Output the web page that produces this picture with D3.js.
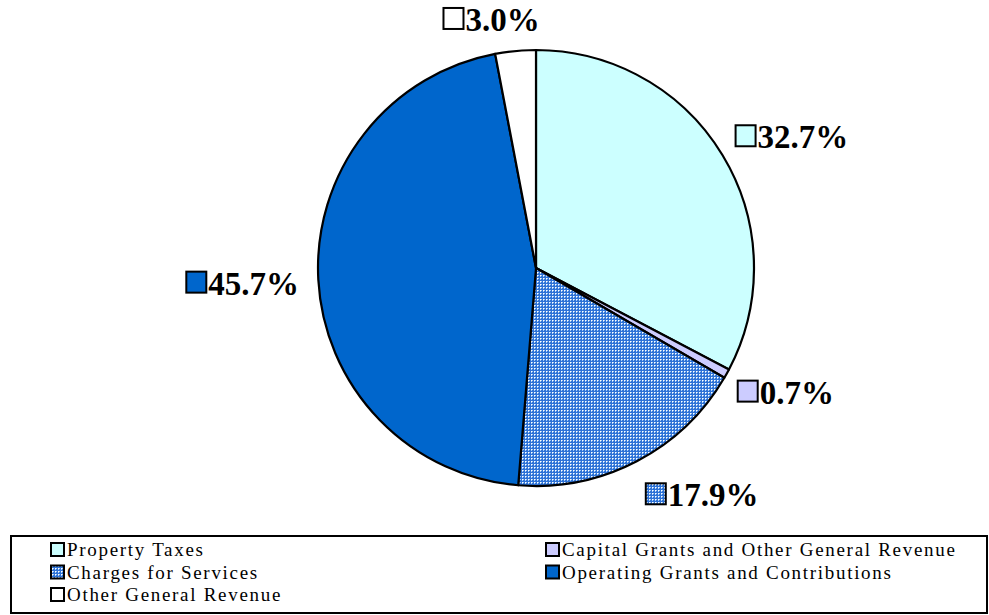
<!DOCTYPE html>
<html><head><meta charset="utf-8">
<script src="https://cdn.jsdelivr.net/npm/d3@7"></script>
<style>body{margin:0;background:#fff}svg{display:block}</style>
</head><body>
<script>
const categories = ["Property Taxes","Capital Grants and Other General Revenue","Charges for Services","Operating Grants and Contributions","Other General Revenue"];
const values = [32.7, 0.7, 17.9, 45.7, 3.0];
const labels = ["32.7%","0.7%","17.9%","45.7%","3.0%"];
const colors = ["#CCFFFF","#CCCCFF","url(#hatch)","#0066CC","#FFFFFF"];

// label placement offsets (from the rim point at the slice's mid angle to the left-centre of the label group)
const labelOffsets = [[12,-19],[10,18],[8,33],[-133,3],[-73,-32]];

const W=989,H=615, cx=536, cy=268, R=218;
const svg=d3.select("body").append("svg").attr("width",W).attr("height",H);
const defs=svg.append("defs");
const pat=defs.append("pattern").attr("id","hatch").attr("width",3).attr("height",3).attr("patternUnits","userSpaceOnUse");
pat.append("rect").attr("width",3).attr("height",3).attr("fill","#2E72D6");
pat.append("rect").attr("width",1).attr("height",1).attr("x",1).attr("y",1).attr("fill","#ffffff");
pat.append("rect").attr("width",1).attr("height",1).attr("x",2).attr("y",1).attr("fill","#A8CCF4");
pat.append("rect").attr("width",1).attr("height",1).attr("x",1).attr("y",2).attr("fill","#A8CCF4");

const pie=d3.pie().sort(null).value(d=>d)(values);
const arc=d3.arc().innerRadius(0).outerRadius(R);
const g=svg.append("g").attr("transform",`translate(${cx},${cy})`);
g.selectAll("path").data(pie).join("path").attr("d",arc)
 .attr("fill",(d,i)=>colors[i]).attr("stroke","#000").attr("stroke-width",2.2).attr("stroke-linejoin","round");

const lab=svg.append("g");
pie.forEach((d,i)=>{
  const a=(d.startAngle+d.endAngle)/2;
  const rx=cx+R*Math.sin(a), ry=cy-R*Math.cos(a);
  const x0=rx+labelOffsets[i][0], y=ry+labelOffsets[i][1];
  const gg=lab.append("g");
  gg.append("rect").attr("x",x0+1).attr("y",y-11).attr("width",20).attr("height",21)
    .attr("fill",colors[i]).attr("stroke","#000").attr("stroke-width",2);
  gg.append("text").attr("font-family","'Liberation Serif','Times New Roman',serif")
    .attr("font-weight","bold").attr("font-size",33).attr("fill","#000")
    .attr("x",x0+23).attr("y",y+12).text(labels[i]);
});

// legend
svg.append("rect").attr("x",11).attr("y",536).attr("width",976).attr("height",77)
  .attr("fill","#fff").attr("stroke","#000").attr("stroke-width",2);
const leg=svg.append("g");
categories.forEach((c,k)=>{
  const col=k%2, row=Math.floor(k/2);
  const x=col===0?51:546, y=543+row*22.5;
  leg.append("rect").attr("x",x).attr("y",y).attr("width",13).attr("height",13)
    .attr("fill",colors[k]).attr("stroke","#000").attr("stroke-width",2);
  leg.append("text").attr("x",x+16).attr("y",y+13).attr("font-family","'Liberation Serif','Times New Roman',serif")
    .attr("font-size",19).attr("letter-spacing",1.7).attr("fill","#000").text(c);
});
</script>
</body></html>
